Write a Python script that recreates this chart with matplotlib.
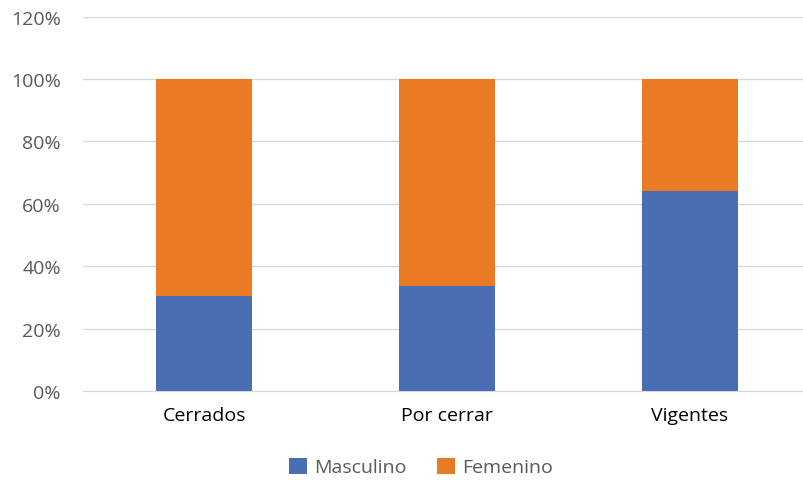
import matplotlib
matplotlib.use("Agg")
import matplotlib.pyplot as plt
from matplotlib.ticker import PercentFormatter

categories = ["Cerrados", "Por cerrar", "Vigentes"]
masculino = [30.4, 33.7, 64.2]
femenino = [69.6, 66.3, 35.8]

BLUE, ORANGE = "#4A6EB4", "#EA7A23"
plt.rcParams["font.family"] = ["Open Sans", "DejaVu Sans"]

fig = plt.figure(figsize=(8.04, 4.81), dpi=100)
ax = fig.add_axes([83 / 804, 1 - 392 / 481, 721 / 804, 374.4 / 481])

x = range(len(categories))
ax.bar(x, masculino, width=0.395, color=BLUE, label="Masculino", zorder=3)
ax.bar(x, femenino, width=0.395, bottom=masculino, color=ORANGE,
       label="Femenino", zorder=3)

ax.set_ylim(0, 120)
ax.set_yticks(range(0, 121, 20))
ax.yaxis.set_major_formatter(PercentFormatter(decimals=0))
ax.set_xlim(-0.5, -0.5 + 721 / 242.7)
ax.set_xticks(list(x))
ax.set_xticklabels(categories)
ax.grid(axis="y", color="#d9d9d9", lw=1, zorder=0)
for s in ["top", "right", "left"]:
    ax.spines[s].set_visible(False)
ax.spines["bottom"].set_color("#d9d9d9")
ax.tick_params(axis="both", length=0, labelsize=14, colors="#595959")
ax.tick_params(axis="x", colors="black", pad=11)
ax.tick_params(axis="y", pad=16)

fig.legend(loc="center", bbox_to_anchor=(421 / 804, 1 - 468 / 481), ncol=2,
           frameon=False, fontsize=14, handlelength=0.9, handleheight=0.9,
           columnspacing=1.6, handletextpad=0.35, labelcolor="#595959")

fig.savefig("out.png", dpi=100)
